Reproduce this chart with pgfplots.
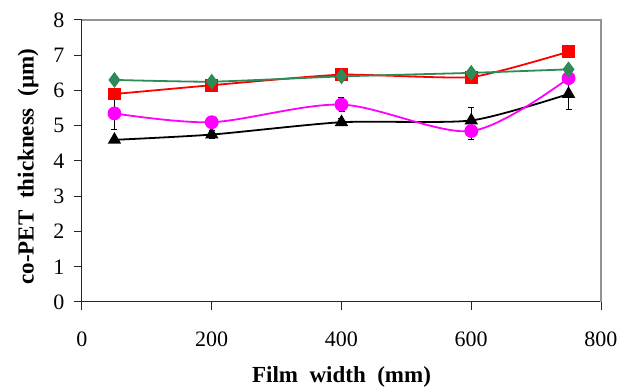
\documentclass[border=0pt]{standalone}
\usepackage{pgfplots}
\pgfplotsset{compat=1.18}
\usepackage{fontspec}
\setmainfont{Liberation Serif}
\definecolor{sgreen}{RGB}{46,139,87}
\definecolor{mag}{RGB}{255,0,255}
\begin{document}
\begin{tikzpicture}
\begin{axis}[
  name=ax,
  scale only axis, width=519pt, height=282pt,
  xmin=0, xmax=800, ymin=0, ymax=8,
  xtick={0,200,...,800}, ytick={0,1,...,8},
  axis x line*=bottom, axis y line*=left,
  axis line style={black!85, line width=1pt, -},
  tick style={black!85, line width=1pt},
  tick align=outside, major tick length=8pt,
  /pgf/number format/assume math mode=true,
  ticklabel style={font=\fontsize{22}{24}\selectfont},
  xticklabel style={yshift=-18pt},
  yticklabel style={xshift=-6pt},
  xlabel={\textbf{Film\ \ width\ \ (mm)}},
  ylabel={\textbf{co-PET\ \ thickness\ \ (µm)}},
  label style={font=\fontsize{23}{25}\selectfont},
  xlabel style={at={(rel axis cs:0.5,-0.266)}, anchor=center},
  ylabel style={at={(rel axis cs:-0.104,0.48)}, anchor=center},
  clip=false,
]
\draw[gray!85, line width=1.3pt] (rel axis cs:0,1) -- (rel axis cs:1,1) -- (rel axis cs:1,0);
% black triangles
\addplot[black, line width=1.8pt, smooth, tension=0.4, mark=triangle*, mark size=6pt,
  error bars/.cd, y dir=both, y explicit, error mark options={rotate=90, mark size=3pt, line width=0.8pt}, error bar style={line width=0.8pt}]
  coordinates {(50,4.6) +- (0,0.05) (200,4.75) +- (0,0.12) (400,5.1) +- (0,0.1) (600,5.15) +- (0,0.38) (750,5.9) +- (0,0.45)};
% magenta circles
\addplot[mag, line width=1.8pt, smooth, tension=0.5, mark=*, mark size=6pt,
  error bars/.cd, y dir=both, y explicit, error mark options={black, rotate=90, mark size=3pt, line width=0.8pt}, error bar style={black, line width=0.8pt}]
  coordinates {(50,5.35) +- (0,0.45) (200,5.1) +- (0,0.1) (400,5.6) +- (0,0.2) (600,4.85) +- (0,0.25) (750,6.35) +- (0,0.1)};
% red squares
\addplot[red, line width=1.8pt, smooth, tension=0.3, mark=square*, mark size=5.5pt]
  coordinates {(50,5.9) (200,6.15) (400,6.45) (600,6.38) (750,7.1)};
% green diamonds
\addplot[sgreen, line width=1.8pt, smooth, tension=0.3, mark=diamond*, mark size=6.5pt]
  coordinates {(50,6.3) (200,6.25) (400,6.4) (600,6.5) (750,6.6)};
\end{axis}
\pgfresetboundingbox
\path ([shift={(-82pt,-87pt)}]ax.south west) rectangle ([shift={(17pt,20pt)}]ax.north east);
\end{tikzpicture}
\end{document}
